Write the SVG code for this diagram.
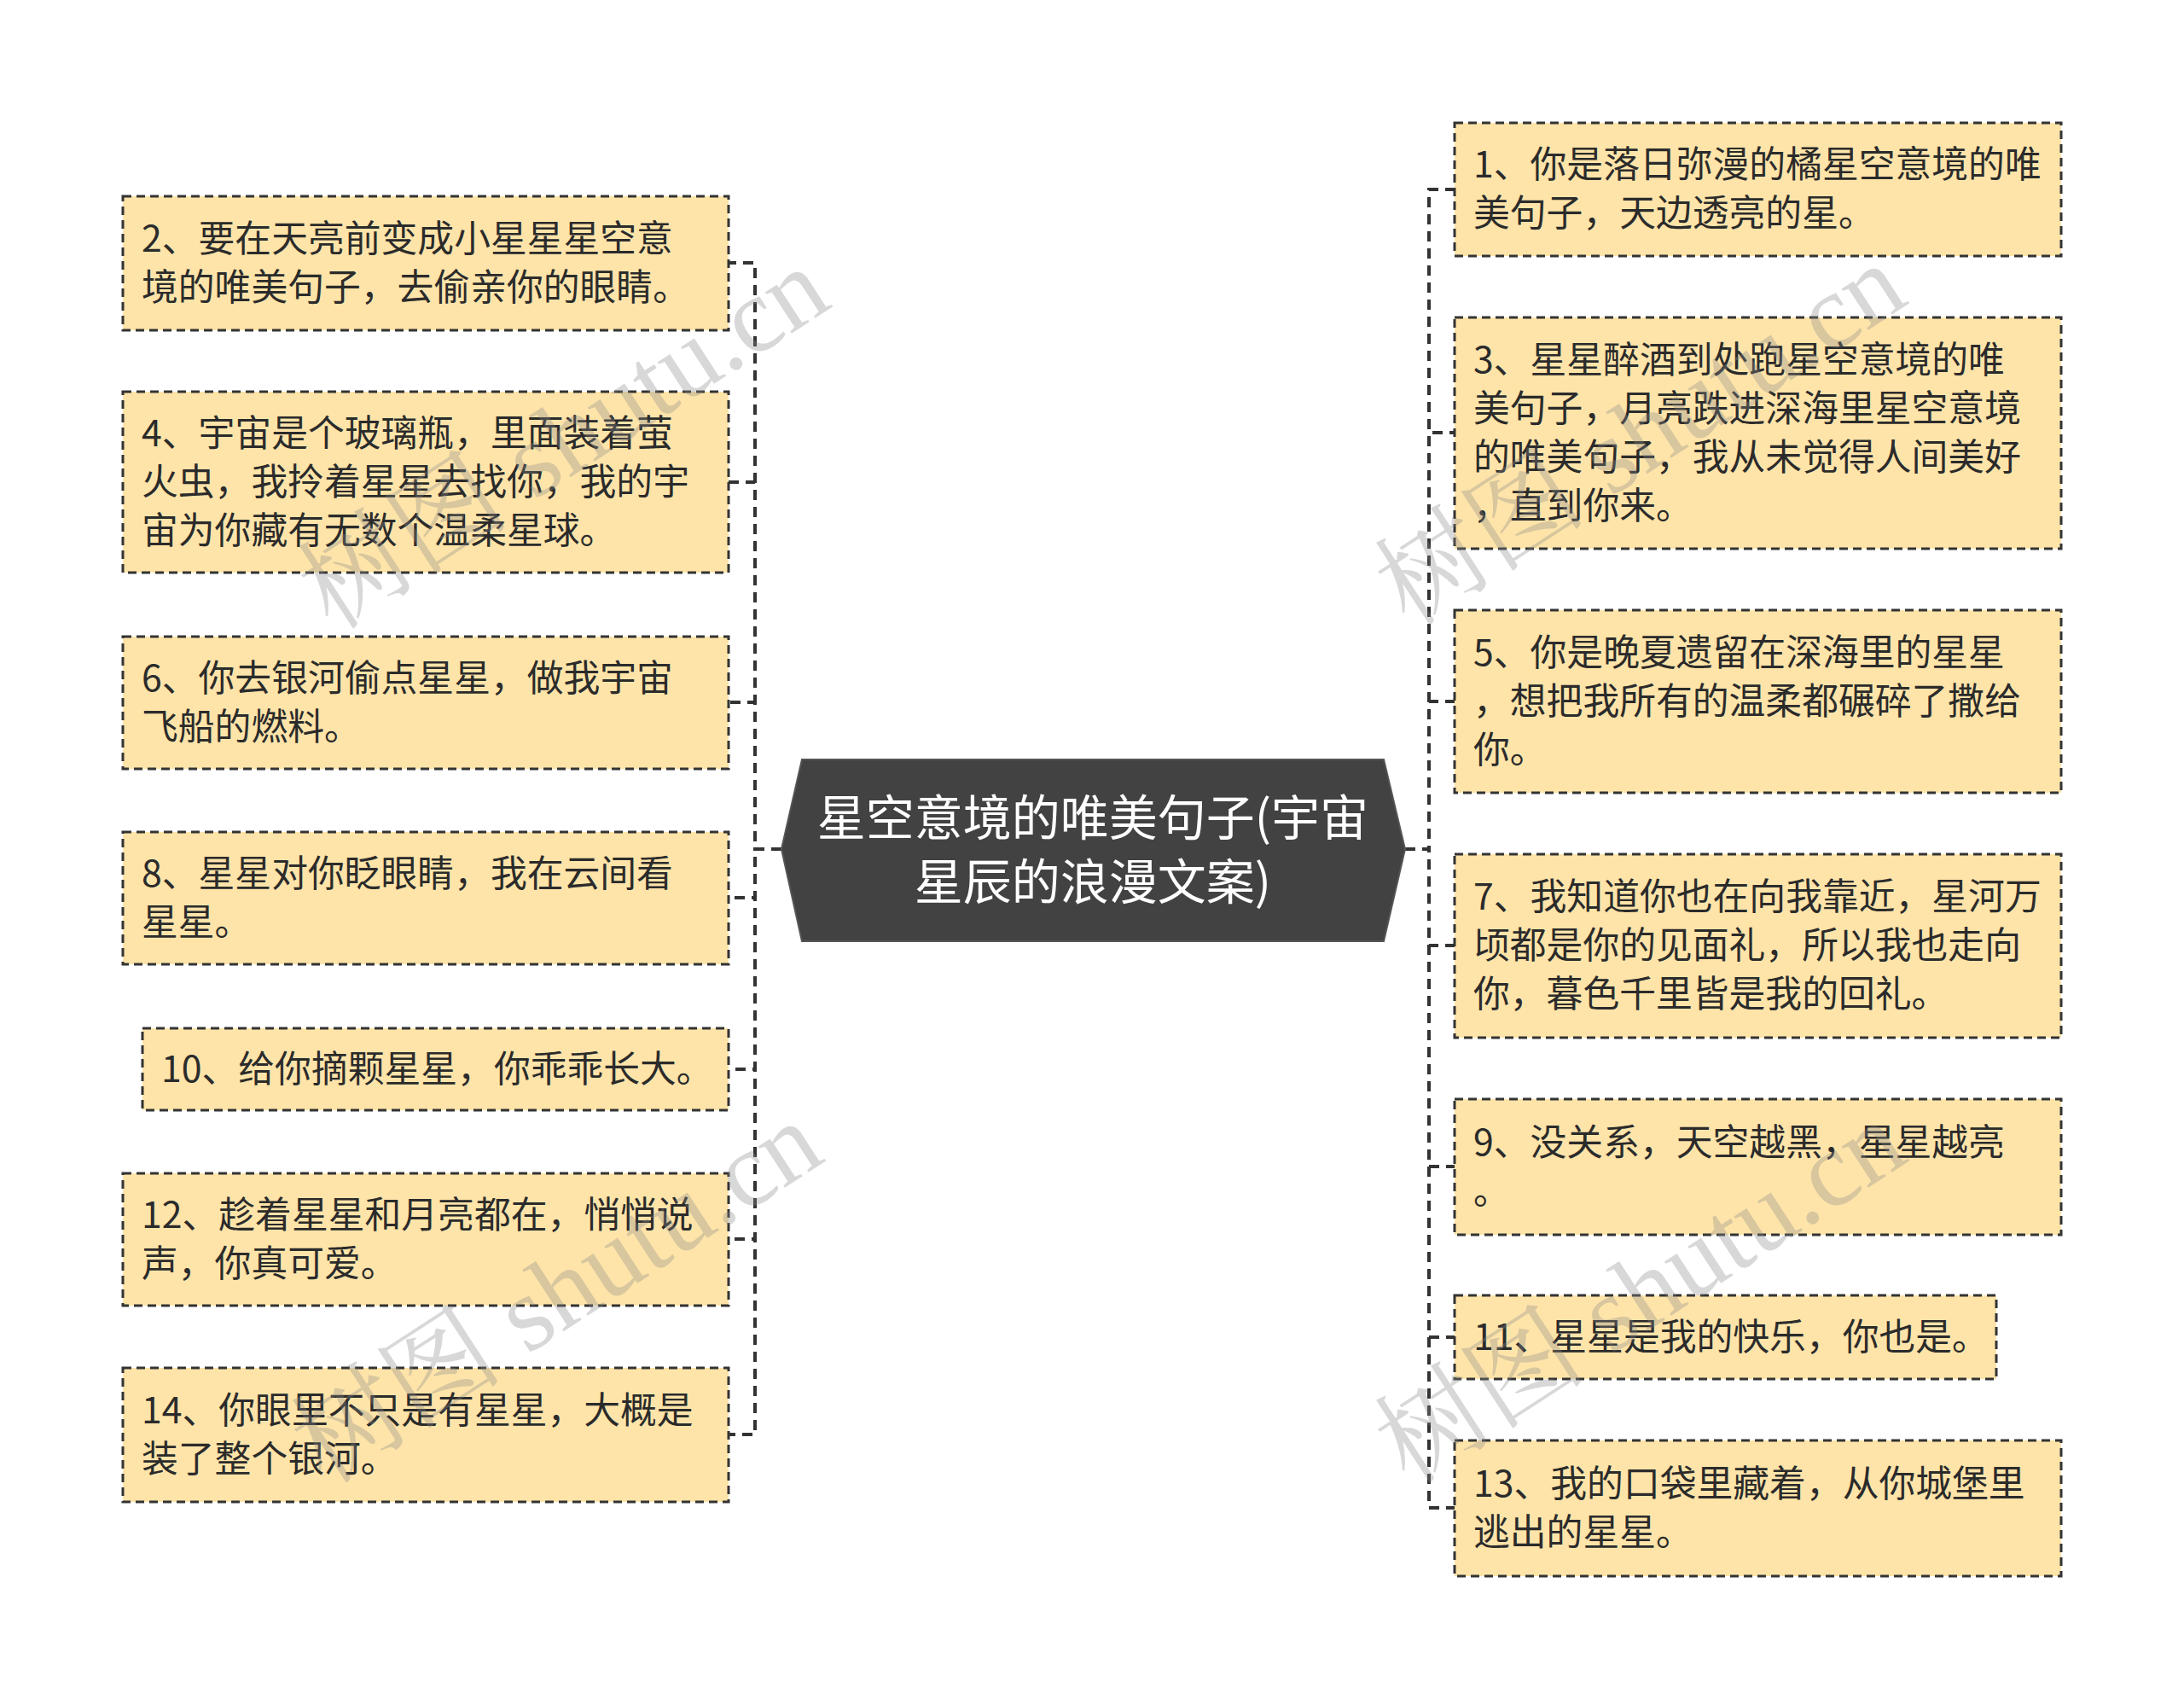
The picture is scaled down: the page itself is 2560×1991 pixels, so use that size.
<svg xmlns="http://www.w3.org/2000/svg" width="2560" height="1991" viewBox="0 0 2560 1991">
<style>
.box{fill:#FEE4A9;stroke:#333;stroke-width:3;stroke-dasharray:10 6}
.t{font-family:"Noto Sans CJK SC","Noto Sans",sans-serif;font-size:42.8px;fill:#2b2b2b;dominant-baseline:central}
.ct{font-family:"Noto Sans CJK SC","Noto Sans",sans-serif;font-size:57px;fill:#fff;dominant-baseline:central;text-anchor:middle}
.c{fill:none;stroke:#333;stroke-width:4;stroke-dasharray:12 8}
.wm{font-family:"Liberation Serif","Noto Serif CJK SC","Noto Sans CJK SC",serif;font-size:125px;fill:#8a8a8a;fill-opacity:0.33;text-anchor:middle;dominant-baseline:central}
</style>
<rect width="2560" height="1991" fill="#fff"/>
<g id="connectors">
<path class="c" d="M916 995H885V308H854"/>
<path class="c" d="M916 995H885V565H854"/>
<path class="c" d="M916 995H885V823H854"/>
<path class="c" d="M916 995H885V1052H854"/>
<path class="c" d="M916 995H885V1253H854"/>
<path class="c" d="M916 995H885V1452H854"/>
<path class="c" d="M916 995H885V1681H854"/>
<path class="c" d="M1647 995H1675V222H1705"/>
<path class="c" d="M1647 995H1675V507H1705"/>
<path class="c" d="M1647 995H1675V822H1705"/>
<path class="c" d="M1647 995H1675V1108H1705"/>
<path class="c" d="M1647 995H1675V1367H1705"/>
<path class="c" d="M1647 995H1675V1567H1705"/>
<path class="c" d="M1647 995H1675V1767H1705"/>
</g>
<g id="center">
<polygon points="940,890 1622,890 1647,995 1622,1103 940,1103 916,995" fill="#424242" stroke="#555" stroke-width="2"/>
<text class="ct" x="1281" y="954">星空意境的唯美句子(宇宙</text>
<text class="ct" x="1281" y="1029">星辰的浪漫文案)</text>
</g>
<g id="n2"><rect class="box" x="144" y="230" width="710" height="157"/>
<text class="t" x="166" y="276">2、要在天亮前变成小星星星空意</text>
<text class="t" x="166" y="333">境的唯美句子，去偷亲你的眼睛。</text></g>
<g id="n4"><rect class="box" x="144" y="459" width="710" height="212"/>
<text class="t" x="166" y="504">4、宇宙是个玻璃瓶，里面装着萤</text>
<text class="t" x="166" y="561">火虫，我拎着星星去找你，我的宇</text>
<text class="t" x="166" y="618">宙为你藏有无数个温柔星球。</text></g>
<g id="n6"><rect class="box" x="144" y="746" width="710" height="155"/>
<text class="t" x="166" y="791">6、你去银河偷点星星，做我宇宙</text>
<text class="t" x="166" y="848">飞船的燃料。</text></g>
<g id="n8"><rect class="box" x="144" y="975" width="710" height="155"/>
<text class="t" x="166" y="1020">8、星星对你眨眼睛，我在云间看</text>
<text class="t" x="166" y="1077">星星。</text></g>
<g id="n10"><rect class="box" x="167" y="1205" width="687" height="96"/>
<text class="t" x="189" y="1249">10、给你摘颗星星，你乖乖长大。</text></g>
<g id="n12"><rect class="box" x="144" y="1375" width="710" height="155"/>
<text class="t" x="166" y="1420">12、趁着星星和月亮都在，悄悄说</text>
<text class="t" x="166" y="1477">声，你真可爱。</text></g>
<g id="n14"><rect class="box" x="144" y="1603" width="710" height="157"/>
<text class="t" x="166" y="1649">14、你眼里不只是有星星，大概是</text>
<text class="t" x="166" y="1706">装了整个银河。</text></g>
<g id="n1"><rect class="box" x="1705" y="144" width="711" height="156"/>
<text class="t" x="1727" y="189">1、你是落日弥漫的橘星空意境的唯</text>
<text class="t" x="1727" y="246">美句子，天边透亮的星。</text></g>
<g id="n3"><rect class="box" x="1705" y="372" width="711" height="271"/>
<text class="t" x="1727" y="418">3、星星醉酒到处跑星空意境的唯</text>
<text class="t" x="1727" y="475">美句子，月亮跌进深海里星空意境</text>
<text class="t" x="1727" y="532">的唯美句子，我从未觉得人间美好</text>
<text class="t" x="1727" y="589">，直到你来。</text></g>
<g id="n5"><rect class="box" x="1705" y="715" width="711" height="214"/>
<text class="t" x="1727" y="761">5、你是晚夏遗留在深海里的星星</text>
<text class="t" x="1727" y="818">，想把我所有的温柔都碾碎了撒给</text>
<text class="t" x="1727" y="875">你。</text></g>
<g id="n7"><rect class="box" x="1705" y="1001" width="711" height="215"/>
<text class="t" x="1727" y="1047">7、我知道你也在向我靠近，星河万</text>
<text class="t" x="1727" y="1104">顷都是你的见面礼，所以我也走向</text>
<text class="t" x="1727" y="1161">你，暮色千里皆是我的回礼。</text></g>
<g id="n9"><rect class="box" x="1705" y="1288" width="711" height="159"/>
<text class="t" x="1727" y="1335">9、没关系，天空越黑，星星越亮</text>
<text class="t" x="1727" y="1392">。</text></g>
<g id="n11"><rect class="box" x="1705" y="1518" width="635" height="98"/>
<text class="t" x="1727" y="1563">11、星星是我的快乐，你也是。</text></g>
<g id="n13"><rect class="box" x="1705" y="1688" width="711" height="159"/>
<text class="t" x="1727" y="1735">13、我的口袋里藏着，从你城堡里</text>
<text class="t" x="1727" y="1792">逃出的星星。</text></g>
<g id="watermarks">
<text class="wm" x="661" y="514" transform="rotate(-33 661 514)">树图 shutu.cn</text>
<text class="wm" x="653" y="1515" transform="rotate(-33 653 1515)">树图 shutu.cn</text>
<text class="wm" x="1923" y="510" transform="rotate(-33 1923 510)">树图 shutu.cn</text>
<text class="wm" x="1923" y="1515" transform="rotate(-33 1923 1515)">树图 shutu.cn</text>
</g>
</svg>
